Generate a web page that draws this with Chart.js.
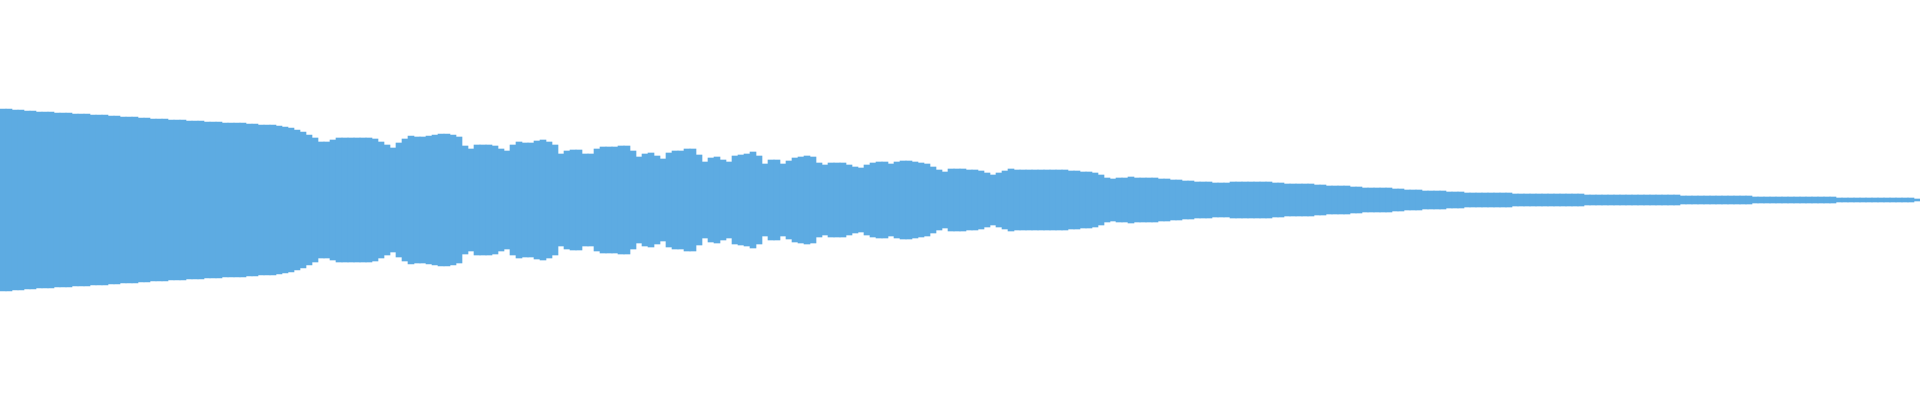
<!DOCTYPE html>
<html>
<head>
<meta charset="utf-8">
<title>Waveform</title>
<script src="https://cdn.jsdelivr.net/npm/chart.js@4.4.1/dist/chart.umd.min.js"></script>
<style>
  html, body { margin: 0; padding: 0; background: #fff; }
  #wrap { width: 1920px; height: 400px; }
</style>
</head>
<body>
<div id="wrap"><canvas id="wave"></canvas></div>
<script>
// peak amplitude per slice (symmetric around 0)
const peaks = [
  91,91,90,90,89,89,88,88,88,87,87,87,86,86,86,85,85,85,84,84,
  83,83,83,82,82,81,81,81,80,80,80,79,79,79,78,78,78,77,77,77,
  77,76,76,75,75,75,74,73,72,70,68,65,62,58,58,60,62,62,62,62,
  62,62,61,58,55,52,57,61,64,63,63,64,65,66,66,65,63,54,51,55,
  55,55,54,51,49,55,58,57,57,59,60,58,55,46,49,50,50,46,46,51,
  53,53,53,54,54,49,43,46,47,44,41,47,49,49,51,51,45,38,42,43,
  40,38,44,45,46,48,44,36,40,40,36,39,42,43,44,43,37,35,37,37,
  37,35,33,32,35,37,38,38,36,38,39,39,38,37,36,33,30,28,31,31,
  31,30,30,29,27,25,27,29,31,30,30,30,30,30,30,30,30,30,29,29,
  28,28,27,25,22,21,22,22,23,22,22,22,22,21,21,20,20,19,19,18,
  18,18,17,17,17,18,18,18,18,18,18,18,17,17,16,16,16,16,16,15,
  15,14,14,14,14,13,13,12,12,12,12,12,11,11,10,10,10,9,9,9,
  9,8,8,8,7,7,7,7,7,7,7,7,6,6,6,6,6,6,6,6,
  6,6,6,6,5,5,5,5,5,5,5,5,5,5,5,5,5,5,5,5,
  4,4,4,4,4,4,4,4,4,4,4,4,3,3,3,3,3,3,3,3,
  3,3,3,3,3,3,2,2,2,2,2,2,2,2,2,2,2,2,2,1
];
const slices = peaks.map((p, i) => i);
const yRange = [-200, 200];

const ctx = document.getElementById('wave').getContext('2d');

const data = {
  labels: slices,
  datasets: [
    {
      data: peaks.map(p => [-p, p]),
      backgroundColor: 'rgb(93,171,226)',
      borderWidth: 0,
      barPercentage: 1,
      categoryPercentage: 1,
    },
  ],
};

const config = {
  type: 'bar',
  data: data,
  options: {
    responsive: true,
    maintainAspectRatio: false,
    animation: false,
    layout: { padding: 0 },
    plugins: {
      legend: { display: false },
      tooltip: { enabled: false },
    },
    scales: {
      x: { display: false },
      y: { display: false, min: yRange[0], max: yRange[1] },
    },
  },
};

const waveChart = new Chart(ctx, config);
</script>
</body>
</html>
